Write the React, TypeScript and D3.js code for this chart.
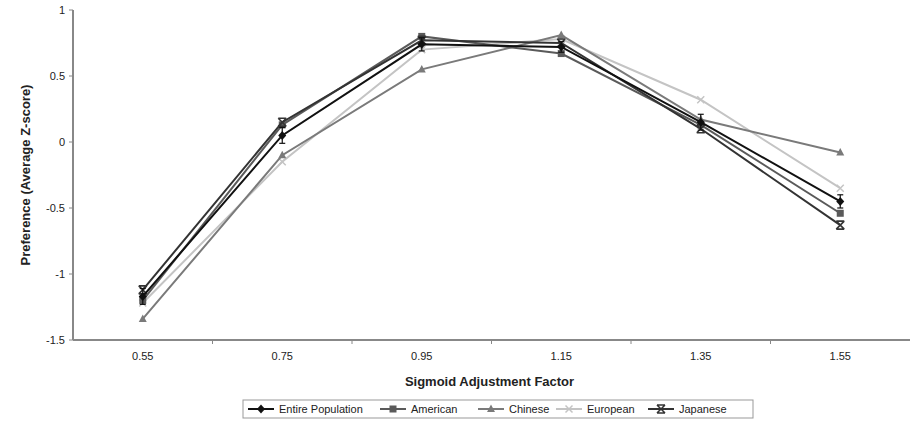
import React from "react";
import * as d3 from "d3";

const categories = ["0.55", "0.75", "0.95", "1.15", "1.35", "1.55"];
const entire = [-1.17, 0.05, 0.74, 0.72, 0.15, -0.45];
const entireErr = [0.06, 0.06, 0.05, 0.04, 0.06, 0.05];
const american = [-1.2, 0.13, 0.8, 0.67, 0.13, -0.54];
const chinese = [-1.34, -0.1, 0.55, 0.81, 0.17, -0.08];
const european = [-1.22, -0.15, 0.7, 0.78, 0.32, -0.35];
const japanese = [-1.12, 0.15, 0.77, 0.75, 0.1, -0.63];
const yTicks = [1, 0.5, 0, -0.5, -1, -1.5];
const seriesNames = ["Entire Population", "American", "Chinese", "European", "Japanese"];

const W = 912, H = 421;
const M = { left: 73, right: 2, top: 10, bottom: 81 };

function Marker({ kind, x, y, color }: { kind: string; x: number; y: number; color: string }) {
  if (kind === "diamond")
    return <path d={`M${x},${y - 4.5}L${x + 4},${y}L${x},${y + 4.5}L${x - 4},${y}Z`} fill={color} />;
  if (kind === "square") return <rect x={x - 3.5} y={y - 3.5} width={7} height={7} fill={color} />;
  if (kind === "triangle")
    return <path d={`M${x},${y - 4.5}L${x + 4},${y + 3}L${x - 4},${y + 3}Z`} fill={color} />;
  if (kind === "x")
    return (
      <path d={`M${x - 3.5},${y - 3.5}L${x + 3.5},${y + 3.5}M${x + 3.5},${y - 3.5}L${x - 3.5},${y + 3.5}`} stroke={color} strokeWidth={1.5} />
    );
  return (
    <g stroke={color} strokeWidth={1.6}>
      <path d={`M${x - 4},${y - 4}L${x + 4},${y + 4}M${x + 4},${y - 4}L${x - 4},${y + 4}M${x - 4},${y - 4}H${x + 4}M${x - 4},${y + 4}H${x + 4}`} />
    </g>
  );
}

export default function App() {
  const x = d3.scaleBand().domain(categories).range([M.left, W - M.right]);
  const y = d3.scaleLinear().domain([-1.5, 1]).range([H - M.bottom, M.top]);
  const cx = (c: string) => (x(c) as number) + x.bandwidth() / 2;

  const series = [
    { name: seriesNames[0], vals: entire, color: "#111", marker: "diamond", w: 2 },
    { name: seriesNames[1], vals: american, color: "#5a5a5a", marker: "square", w: 2 },
    { name: seriesNames[2], vals: chinese, color: "#7a7a7a", marker: "triangle", w: 2 },
    { name: seriesNames[3], vals: european, color: "#c4c4c4", marker: "x", w: 2 },
    { name: seriesNames[4], vals: japanese, color: "#333", marker: "star", w: 2 },
  ];
  const line = d3.line<number>().x((_, i) => cx(categories[i])).y((v) => y(v));
  const font = "Liberation Sans, Arial, sans-serif";
  const y0 = y(-1.5);

  const legendX = [248, 380, 478, 556, 648];
  const legendY = 409;

  return (
    <svg width={W} height={H} style={{ position: "absolute", left: 0, top: 0, background: "#fff" }} fontFamily={font}>
      {[3, 2, 1, 4, 0].map((si) => {
        const s = series[si];
        return (
          <g key={s.name}>
            <path d={line(s.vals) as string} fill="none" stroke={s.color} strokeWidth={s.w} />
            {s.vals.map((v, i) => (
              <Marker key={i} kind={s.marker} x={cx(categories[i])} y={y(v)} color={s.color} />
            ))}
          </g>
        );
      })}
      {entire.map((v, i) => {
        const px = cx(categories[i]);
        return (
          <g key={i} stroke="#111" strokeWidth={1.2}>
            <line x1={px} x2={px} y1={y(v - entireErr[i])} y2={y(v + entireErr[i])} />
            <line x1={px - 3} x2={px + 3} y1={y(v - entireErr[i])} y2={y(v - entireErr[i])} />
            <line x1={px - 3} x2={px + 3} y1={y(v + entireErr[i])} y2={y(v + entireErr[i])} />
          </g>
        );
      })}
      <line x1={M.left} x2={M.left} y1={M.top} y2={y0} stroke="#888" strokeWidth={2} />
      <line x1={M.left} x2={W - M.right} y1={y0} y2={y0} stroke="#888" strokeWidth={2} />
      {yTicks.map((t) => (
        <g key={t}>
          <line x1={M.left - 4} x2={M.left} y1={y(t)} y2={y(t)} stroke="#888" strokeWidth={1} />
          <text x={M.left - 8} y={y(t)} dy="0.35em" textAnchor="end" fontSize={11} fill="#222">
            {t}
          </text>
        </g>
      ))}
      {categories.map((c, i) => (
        <g key={c}>
          {i > 0 && <line x1={x(c)} x2={x(c)} y1={y0} y2={y0 + 4} stroke="#888" strokeWidth={1} />}
          <text x={cx(c)} y={y0 + 20} textAnchor="middle" fontSize={11} fill="#222">
            {c}
          </text>
        </g>
      ))}
      <text x={(M.left + W - M.right) / 2 - 2} y={386} textAnchor="middle" fontSize={13} fontWeight="bold" fill="#222">
        Sigmoid Adjustment Factor
      </text>
      <text transform={`translate(30,${(M.top + y0) / 2}) rotate(-90)`} textAnchor="middle" fontSize={13} fontWeight="bold" fill="#222">
        Preference (Average Z-score)
      </text>
      <rect x={243} y={400} width={510} height={18} fill="none" stroke="#999" strokeWidth={1} />
      {series.map((s, i) => (
        <g key={s.name}>
          <line x1={legendX[i]} x2={legendX[i] + 26} y1={legendY} y2={legendY} stroke={s.color} strokeWidth={2} />
          <Marker kind={s.marker} x={legendX[i] + 13} y={legendY} color={s.color} />
          <text x={legendX[i] + 31} y={legendY} dy="0.35em" fontSize={11} fill="#222">
            {s.name}
          </text>
        </g>
      ))}
    </svg>
  );
}
